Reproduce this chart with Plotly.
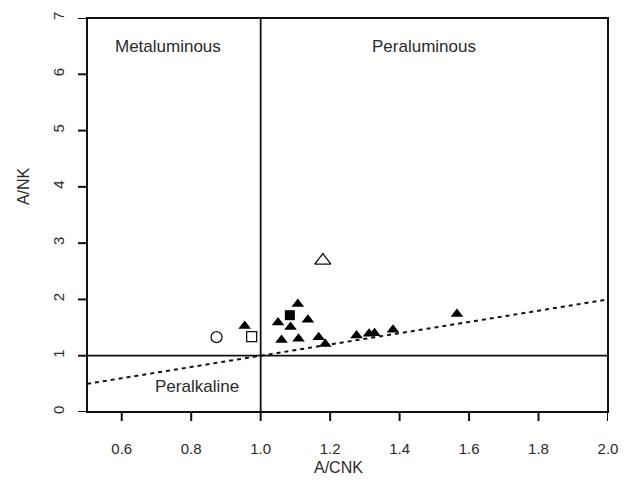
import plotly.graph_objects as go

# ---- data ----
tri_x = [0.954, 1.107, 1.050, 1.136, 1.086, 1.060, 1.109, 1.167, 1.186, 1.276, 1.312, 1.328, 1.381, 1.565]
tri_y = [1.53, 1.92, 1.59, 1.64, 1.51, 1.28, 1.30, 1.33, 1.21, 1.36, 1.39, 1.40, 1.46, 1.74]
sq_x = [1.084]
sq_y = [1.72]
open_tri_x = [1.179]
open_tri_y = [2.69]
open_circ_x = [0.873]
open_circ_y = [1.33]
open_sq_x = [0.974]
open_sq_y = [1.34]

# diagram boundaries
vline_x = [1.0, 1.0]
vline_y = [0.0, 7.0]
hline_x = [0.5, 2.0]
hline_y = [1.0, 1.0]
dash_x = [0.5, 2.0]
dash_y = [0.5, 2.0]

x_ticks = [0.6, 0.8, 1.0, 1.2, 1.4, 1.6, 1.8, 2.0]
x_ticktext = ["0.6", "0.8", "1.0", "1.2", "1.4", "1.6", "1.8", "2.0"]
y_ticks = [0, 1, 2, 3, 4, 5, 6, 7]

region_labels = ["Metaluminous", "Peraluminous", "Peralkaline"]
region_x = [0.733, 1.471, 0.817]
region_y = [6.49, 6.49, 0.46]

FONT = "Liberation Sans, Arial, Helvetica, sans-serif"
TXT = "#2a2a2a"
LINE = "#111"

fig = go.Figure()
fig.add_trace(go.Scatter(x=vline_x, y=vline_y, mode="lines",
                         line=dict(color=LINE, width=1.8), hoverinfo="skip"))
fig.add_trace(go.Scatter(x=hline_x, y=hline_y, mode="lines",
                         line=dict(color=LINE, width=1.8), hoverinfo="skip"))
fig.add_trace(go.Scatter(x=dash_x, y=dash_y, mode="lines",
                         line=dict(color=LINE, width=2, dash="4px,4px"), hoverinfo="skip"))

fig.add_trace(go.Scatter(x=open_circ_x, y=open_circ_y, mode="markers",
                         marker=dict(symbol="circle-open", size=11, color=LINE,
                                     line=dict(width=1.3))))
fig.add_trace(go.Scatter(x=open_sq_x, y=open_sq_y, mode="markers",
                         marker=dict(symbol="square-open", size=10, color=LINE,
                                     line=dict(width=1.3))))
fig.add_trace(go.Scatter(x=open_tri_x, y=open_tri_y, mode="markers",
                         marker=dict(symbol="triangle-up-open", size=14, color=LINE,
                                     line=dict(width=1.3))))
fig.add_trace(go.Scatter(x=tri_x, y=tri_y, mode="markers",
                         marker=dict(symbol="triangle-up", size=11, color="#000")))
fig.add_trace(go.Scatter(x=sq_x, y=sq_y, mode="markers",
                         marker=dict(symbol="square", size=10, color="#000")))

for t, xx, yy in zip(region_labels, region_x, region_y):
    fig.add_annotation(x=xx, y=yy, xref="x", yref="y", text=t, showarrow=False,
                       xanchor="center", yanchor="middle",
                       font=dict(family=FONT, size=17, color=TXT))

fig.add_annotation(x=0.483, y=-0.14, xref="paper", yref="paper", text="A/CNK",
                   xanchor="center", yanchor="middle",
                   showarrow=False, font=dict(family=FONT, size=16, color=TXT))
fig.add_annotation(x=-0.1216, y=0.5725, xref="paper", yref="paper", text="A/NK",
                   xanchor="center", yanchor="middle",
                   textangle=-90, showarrow=False,
                   font=dict(family=FONT, size=16, color=TXT))

# plot frame
fig.add_shape(type="rect", xref="paper", yref="paper", x0=0, y0=0, x1=1, y1=1,
              line=dict(color=LINE, width=2), layer="above")

# tick marks (positioned by the axes' own scales)
for tv in x_ticks:
    fig.add_shape(type="line", xref="x", yref="paper", x0=tv, x1=tv,
                  ysizemode="pixel", yanchor=0, y0=0, y1=-9,
                  line=dict(color=LINE, width=2), layer="above")
for tv in y_ticks:
    fig.add_shape(type="line", xref="paper", yref="y", y0=tv, y1=tv,
                  xsizemode="pixel", xanchor=0, x0=0, x1=-9,
                  line=dict(color=LINE, width=2), layer="above")

fig.update_layout(
    width=630, height=486,
    margin=dict(l=87, r=19, t=12, b=74),
    paper_bgcolor="white", plot_bgcolor="white",
    showlegend=False,
    font=dict(family=FONT, size=15, color=TXT),
    xaxis=dict(range=[0.5, 2.0], tickvals=x_ticks, ticktext=x_ticktext,
               ticks="outside", ticklen=9, tickwidth=2, tickcolor="rgba(0,0,0,0)",
               showline=False, showgrid=False, zeroline=False,
               ticklabelstandoff=14,
               tickfont=dict(family=FONT, size=15, color=TXT)),
    yaxis=dict(range=[0, 7], tickvals=y_ticks, tickangle=-90,
               ticks="outside", ticklen=16, tickwidth=2, tickcolor="rgba(0,0,0,0)",
               showline=False, showgrid=False, zeroline=False,
               tickfont=dict(family=FONT, size=15, color=TXT)),
)

fig.write_html("out.html")
